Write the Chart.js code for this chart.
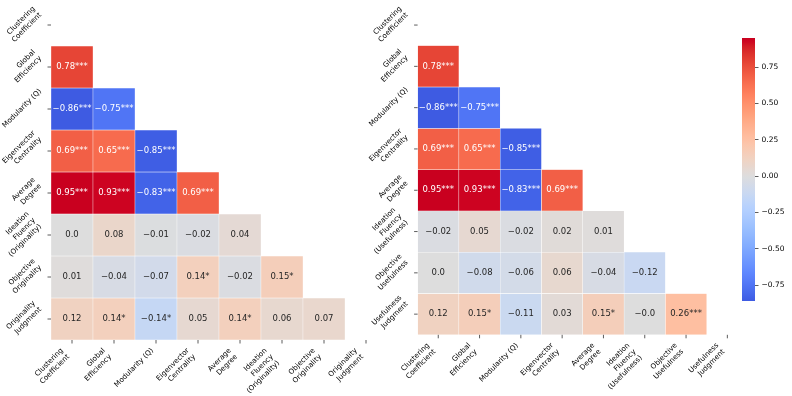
<!DOCTYPE html>
<html>
<head>
<meta charset="utf-8">
<script src="https://cdn.jsdelivr.net/npm/chart.js@4/dist/chart.umd.min.js"></script>
<style>
  html, body { margin: 0; padding: 0; background: #fff; }
  body { width: 792px; height: 396px; position: relative; overflow: hidden; }
  canvas { position: absolute; top: 0; }
</style>
</head>
<body>
<canvas id="left-chart" width="396" height="396" style="left:0px"></canvas>
<canvas id="right-chart" width="390" height="396" style="left:366px"></canvas>
<canvas id="cbar-chart" width="92" height="396" style="left:700px"></canvas>
<script>
// metric names (lines of each tick label)
const leftLabels = [
    ['Clustering', 'Coefficient'], ['Global', 'Efficiency'], ['Modularity (Q)'],
    ['Eigenvector', 'Centrality'], ['Average', 'Degree'],
    ['Ideation', 'Fluency', '(Originality)'], ['Objective', 'Originality'], ['Originality', 'Judgment']
];
const rightLabels = [
    ['Clustering', 'Coefficient'], ['Global', 'Efficiency'], ['Modularity (Q)'],
    ['Eigenvector', 'Centrality'], ['Average', 'Degree'],
    ['Ideation', 'Fluency', '(Usefulness)'], ['Objective', 'Usefulness'], ['Usefulness', 'Judgment']
];

// lower triangle, row by row
const leftValues = [
    [],
    [0.78],
    [-0.86, -0.75],
    [0.69, 0.65, -0.85],
    [0.95, 0.93, -0.83, 0.69],
    [0.0, 0.08, -0.01, -0.02, 0.04],
    [0.01, -0.04, -0.07, 0.14, -0.02, 0.15],
    [0.12, 0.14, -0.14, 0.05, 0.14, 0.06, 0.07]
];
const leftStars = [
    [],
    ['***'],
    ['***', '***'],
    ['***', '***', '***'],
    ['***', '***', '***', '***'],
    ['', '', '', '', ''],
    ['', '', '', '*', '', '*'],
    ['', '*', '*', '', '*', '', '']
];
const rightValues = [
    [],
    [0.78],
    [-0.86, -0.75],
    [0.69, 0.65, -0.85],
    [0.95, 0.93, -0.83, 0.69],
    [-0.02, 0.05, -0.02, 0.02, 0.01],
    [0.0, -0.08, -0.06, 0.06, -0.04, -0.12],
    [0.12, 0.15, -0.11, 0.03, 0.15, -0.0, 0.26]
];
const rightStars = [
    [],
    ['***'],
    ['***', '***'],
    ['***', '***', '***'],
    ['***', '***', '***', '***'],
    ['', '', '', '', ''],
    ['', '', '', '', '', ''],
    ['', '*', '', '', '*', '', '***']
];

const colorbarTicks = [-0.75, -0.5, -0.25, 0, 0.25, 0.5, 0.75];

const FONT = "'DejaVu Sans', sans-serif";

// coolwarm control points
const coolwarmTable = [
    [59, 76, 192], [68, 90, 204], [77, 104, 215], [87, 117, 225], [98, 130, 234],
    [108, 142, 241], [119, 154, 247], [130, 165, 251], [141, 176, 254], [152, 185, 255],
    [163, 194, 255], [174, 201, 253], [184, 208, 249], [194, 213, 244], [204, 217, 238],
    [213, 219, 230], [221, 221, 221], [229, 216, 209], [236, 211, 197], [241, 204, 185],
    [245, 196, 173], [247, 187, 160], [247, 177, 148], [247, 166, 135], [244, 154, 123],
    [241, 141, 111], [236, 127, 99], [229, 112, 88], [222, 96, 77], [213, 80, 66],
    [203, 62, 56], [192, 40, 47], [180, 4, 38]
];

function coolwarm(t) {
    t = Math.max(0, Math.min(1, t));
    const pos = t * (coolwarmTable.length - 1);
    const i = Math.min(Math.floor(pos), coolwarmTable.length - 2);
    const f = pos - i;
    const a = coolwarmTable[i], b = coolwarmTable[i + 1];
    const c = [0, 1, 2].map(k => a[k] + (b[k] - a[k]) * f);
    // the reference picture is a bit more vivid than plain coolwarm
    const m = (c[0] + c[1] + c[2]) / 3;
    return c.map(x => Math.round(Math.max(0, Math.min(255, m + (x - m) * 1.2))));
}

const allValues = leftValues.flat().concat(rightValues.flat());
const vmin = Math.min(...allValues);
const vmax = Math.max(...allValues);
const vrange = Math.max(vmax, -vmin); // centred on 0

function cellRgb(v) {
    return coolwarm((v + vrange) / (2 * vrange));
}
function cellColor(v) {
    const c = cellRgb(v);
    return `rgb(${c[0]},${c[1]},${c[2]})`;
}
function textColor(v) {
    const lin = cellRgb(v).map(c => {
        c = c / 255;
        return c <= 0.03928 ? c / 12.92 : Math.pow((c + 0.055) / 1.055, 2.4);
    });
    const lum = 0.2126 * lin[0] + 0.7152 * lin[1] + 0.0722 * lin[2];
    return lum > 0.408 ? '#262626' : '#ffffff';
}
function fmt(v) {
    const neg = v < 0 || Object.is(v, -0);
    const a = Math.abs(v);
    const s = Number.isInteger(a) ? a.toFixed(1) : String(a);
    return (neg ? '\u2212' : '') + s;
}

// numbers inside the cells
const cellTextPlugin = {
    id: 'cellText',
    afterDatasetsDraw(chart, args, opts) {
        const ctx = chart.ctx;
        ctx.save();
        ctx.font = `8.5px ${FONT}`;
        ctx.textAlign = 'center';
        ctx.textBaseline = 'middle';
        opts.values.forEach((row, i) => {
            const meta = chart.getDatasetMeta(i);
            row.forEach((v, j) => {
                const bar = meta.data[j];
                ctx.fillStyle = textColor(v);
                ctx.fillText(fmt(v) + opts.stars[i][j], bar.x, (bar.y + bar.base) / 2);
            });
        });
        ctx.restore();
    }
};

// rotated multi-line tick labels, like matplotlib rotation=45
const axisLabelPlugin = {
    id: 'axisLabels',
    afterDraw(chart, args, opts) {
        const ctx = chart.ctx;
        const area = chart.chartArea;
        const xs = chart.scales.x, ys = chart.scales.y;
        const lh = 8.8;
        const tickLen = 3.5;
        ctx.save();
        ctx.font = `7.2px ${FONT}`;
        ctx.fillStyle = '#000';
        ctx.strokeStyle = '#333';
        ctx.lineWidth = 0.8;
        ctx.textAlign = 'right';
        ctx.textBaseline = 'top';
        opts.labels.forEach((lines, k) => {
            const W = Math.max(...lines.map(l => ctx.measureText(l).width));
            const H = lines.length * lh;

            // x axis
            const tx = xs.getPixelForValue(k);
            ctx.beginPath();
            ctx.moveTo(tx, area.bottom);
            ctx.lineTo(tx, area.bottom + tickLen);
            ctx.stroke();
            ctx.save();
            ctx.translate(tx - 0.707 * H, area.bottom + tickLen + 3.5);
            ctx.rotate(-Math.PI / 4);
            lines.forEach((l, n) => ctx.fillText(l, 0, n * lh));
            ctx.restore();

            // y axis
            const ty = ys.getPixelForValue(k);
            ctx.beginPath();
            ctx.moveTo(area.left, ty);
            ctx.lineTo(area.left - tickLen, ty);
            ctx.stroke();
            ctx.save();
            ctx.translate(area.left - tickLen - 3.5 - 0.354 * H, ty - 0.354 * W);
            ctx.rotate(-Math.PI / 4);
            lines.forEach((l, n) => ctx.fillText(l, 0, -H / 2 + n * lh));
            ctx.restore();
        });
        ctx.restore();
    }
};

function makeHeatmap(canvasId, labels, values, stars, pad, xHeight, yWidth) {
    const names = labels.map(l => l.join(' '));
    const datasets = values.map((row, i) => ({
        data: names.map((_, j) => j < row.length ? [i - 0.5, i + 0.5] : null),
        backgroundColor: names.map((_, j) => j < row.length ? cellColor(row[j]) : 'rgba(0,0,0,0)'),
        borderColor: '#ffffff',
        borderWidth: 0.5,
        borderSkipped: false,
        grouped: false,
        barPercentage: 1,
        categoryPercentage: 1
    }));

    return new Chart(document.getElementById(canvasId).getContext('2d'), {
        type: 'bar',
        data: { labels: names, datasets: datasets },
        options: {
            responsive: false,
            animation: false,
            layout: { padding: pad },
            plugins: {
                legend: { display: false },
                tooltip: { enabled: false },
                cellText: { values: values, stars: stars },
                axisLabels: { labels: labels }
            },
            scales: {
                x: {
                    type: 'category',
                    grid: { display: false },
                    border: { display: false },
                    ticks: { display: false },
                    afterFit: s => { s.height = xHeight; }
                },
                y: {
                    type: 'linear',
                    min: -0.5,
                    max: labels.length - 0.5,
                    reverse: true,
                    grid: { display: false },
                    border: { display: false },
                    ticks: { display: false },
                    afterFit: s => { s.width = yWidth; }
                }
            }
        },
        plugins: [cellTextPlugin, axisLabelPlugin]
    });
}

makeHeatmap('left-chart', leftLabels, leftValues, leftStars,
    { top: 4, right: 9, left: 0, bottom: 0 }, 56, 51);
makeHeatmap('right-chart', rightLabels, rightValues, rightStars,
    { top: 4.4, right: 8, left: 0, bottom: 0 }, 61.2, 51.6);

// colorbar
new Chart(document.getElementById('cbar-chart').getContext('2d'), {
    type: 'bar',
    data: {
        labels: [''],
        datasets: [{
            data: [[vmin, vmax]],
            backgroundColor: (c) => {
                const area = c.chart.chartArea;
                if (!area) return '#dddddd';
                const y = c.chart.scales.y;
                const g = c.chart.ctx.createLinearGradient(0, y.getPixelForValue(vmin), 0, y.getPixelForValue(vmax));
                for (let k = 0; k <= 64; k++) {
                    g.addColorStop(k / 64, cellColor(vmin + (vmax - vmin) * k / 64));
                }
                return g;
            },
            borderWidth: 0,
            barPercentage: 1,
            categoryPercentage: 1
        }]
    },
    options: {
        responsive: false,
        animation: false,
        layout: { padding: { top: 38, bottom: 95, left: 42, right: 0 } },
        plugins: { legend: { display: false }, tooltip: { enabled: false } },
        scales: {
            x: { display: false },
            y: {
                position: 'right',
                min: vmin,
                max: vmax,
                afterBuildTicks: s => { s.ticks = colorbarTicks.map(v => ({ value: v })); },
                grid: { display: true, drawOnChartArea: false, drawTicks: true, tickLength: 3.5, color: '#333', lineWidth: 0.8 },
                border: { display: false },
                ticks: {
                    padding: 3,
                    color: '#000',
                    font: { family: FONT, size: 7.5 },
                    callback: v => (v < 0 ? '\u2212' : '') + Math.abs(v).toFixed(2)
                },
                afterFit: s => { s.width = 37; }
            }
        }
    }
});
</script>
</body>
</html>
